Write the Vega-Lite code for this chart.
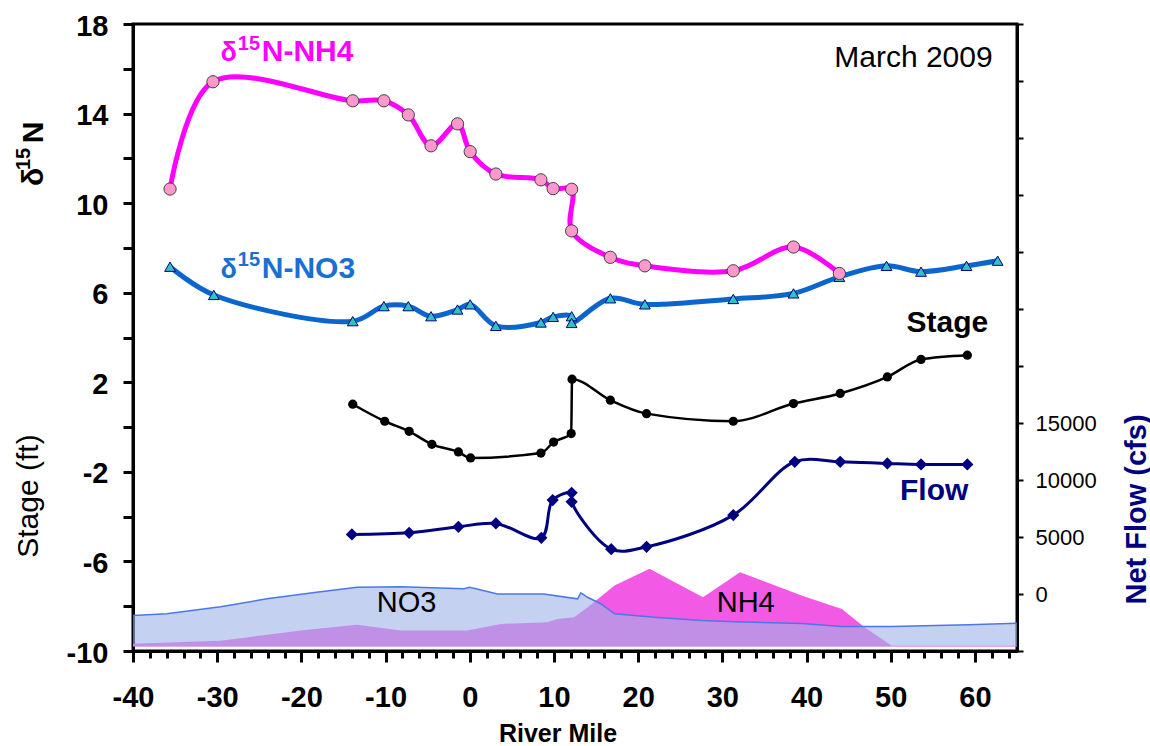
{
  "$schema": "https://vega.github.io/schema/vega-lite/v6.json",
  "width": 884,
  "height": 627,
  "autosize": {"type": "none"},
  "padding": {"left": 133, "top": 24, "right": 133, "bottom": 95},
  "background": "white",
  "config": {
    "font": "Liberation Sans",
    "view": {"stroke": "black", "strokeWidth": 3},
    "axis": {"grid": false, "domainColor": "black", "tickColor": "black", "labelColor": "black", "labelFlush": false, "labelOverlap": false, "labelBound": false}
  },
  "datasets": {
    "nh4": [
      {"rm": -35.6, "v": 10.63}, {"rm": -30.5, "v": 15.42}, {"rm": -13.9, "v": 14.57}, {"rm": -10.2, "v": 14.57},
      {"rm": -7.3, "v": 13.94}, {"rm": -4.6, "v": 12.56}, {"rm": -1.45, "v": 13.54}, {"rm": 0.05, "v": 12.3},
      {"rm": 3.1, "v": 11.3}, {"rm": 8.45, "v": 11.04}, {"rm": 9.9, "v": 10.65}, {"rm": 12.1, "v": 10.62},
      {"rm": 12.1, "v": 8.76}, {"rm": 16.7, "v": 7.58}, {"rm": 20.8, "v": 7.2}, {"rm": 31.3, "v": 6.98},
      {"rm": 38.45, "v": 8.04}, {"rm": 43.9, "v": 6.86}
    ],
    "no3": [
      {"rm": -35.6, "v": 7.16}, {"rm": -30.4, "v": 5.9}, {"rm": -13.9, "v": 4.73}, {"rm": -10.2, "v": 5.4},
      {"rm": -7.3, "v": 5.4}, {"rm": -4.6, "v": 4.95}, {"rm": -1.45, "v": 5.25}, {"rm": 0.05, "v": 5.48},
      {"rm": 3.1, "v": 4.52}, {"rm": 8.45, "v": 4.67}, {"rm": 9.9, "v": 4.92}, {"rm": 12.1, "v": 4.95},
      {"rm": 12.1, "v": 4.65}, {"rm": 16.7, "v": 5.75}, {"rm": 20.8, "v": 5.48}, {"rm": 31.3, "v": 5.72},
      {"rm": 38.45, "v": 5.97}, {"rm": 43.9, "v": 6.71}, {"rm": 49.5, "v": 7.2}, {"rm": 53.6, "v": 6.94},
      {"rm": 59.0, "v": 7.2}, {"rm": 62.7, "v": 7.43}
    ],
    "stage": [
      {"rm": -13.9, "v": 1.02}, {"rm": -10.1, "v": 0.26}, {"rm": -7.2, "v": -0.19}, {"rm": -4.5, "v": -0.77},
      {"rm": -1.35, "v": -1.11}, {"rm": 0.1, "v": -1.38}, {"rm": 8.45, "v": -1.16}, {"rm": 9.96, "v": -0.67},
      {"rm": 12.05, "v": -0.29}, {"rm": 12.15, "v": 2.14}, {"rm": 16.7, "v": 1.2}, {"rm": 21.0, "v": 0.6},
      {"rm": 31.3, "v": 0.26}, {"rm": 38.45, "v": 1.05}, {"rm": 44.0, "v": 1.5}, {"rm": 49.6, "v": 2.24},
      {"rm": 53.6, "v": 3.02}, {"rm": 59.1, "v": 3.21}
    ],
    "flow": [
      {"rm": -14.0, "flow": 5224}, {"rm": -7.2, "flow": 5365}, {"rm": -1.35, "flow": 5892}, {"rm": 3.1, "flow": 6190},
      {"rm": 8.5, "flow": 4926}, {"rm": 9.85, "flow": 8236}, {"rm": 12.1, "flow": 8877}, {"rm": 12.1, "flow": 8087},
      {"rm": 16.8, "flow": 3934}, {"rm": 21.0, "flow": 4136}, {"rm": 31.3, "flow": 6919}, {"rm": 38.6, "flow": 11600},
      {"rm": 44.0, "flow": 11600}, {"rm": 49.6, "flow": 11458}, {"rm": 53.6, "flow": 11370}, {"rm": 59.1, "flow": 11370}
    ],
    "no3area": [
      {"rm": -40, "v": -8.42}, {"rm": -36, "v": -8.34}, {"rm": -29.6, "v": -8.02}, {"rm": -24.1, "v": -7.67},
      {"rm": -18.2, "v": -7.38}, {"rm": -13.4, "v": -7.15}, {"rm": -8.2, "v": -7.13}, {"rm": -0.7, "v": -7.22},
      {"rm": 0, "v": -7.15}, {"rm": 3.3, "v": -7.45}, {"rm": 8.8, "v": -7.45}, {"rm": 12.8, "v": -7.67},
      {"rm": 13.2, "v": -7.4}, {"rm": 14.0, "v": -7.6}, {"rm": 15.6, "v": -7.9}, {"rm": 17.2, "v": -8.34},
      {"rm": 21.9, "v": -8.49}, {"rm": 27.5, "v": -8.64}, {"rm": 31.5, "v": -8.69}, {"rm": 39.4, "v": -8.77},
      {"rm": 44.2, "v": -8.91}, {"rm": 50.1, "v": -8.91}, {"rm": 59.2, "v": -8.83}, {"rm": 65, "v": -8.76}
    ],
    "nh4area": [
      {"rm": -40, "v": -9.68}, {"rm": -29.6, "v": -9.54}, {"rm": -20.1, "v": -9.09}, {"rm": -13.4, "v": -8.83},
      {"rm": -8.2, "v": -9.09}, {"rm": -0.3, "v": -9.09}, {"rm": 3.7, "v": -8.79}, {"rm": 9.25, "v": -8.72},
      {"rm": 10.4, "v": -8.57}, {"rm": 12.4, "v": -8.49}, {"rm": 14.0, "v": -8.05}, {"rm": 17.2, "v": -7.08},
      {"rm": 21.35, "v": -6.33}, {"rm": 27.7, "v": -7.6}, {"rm": 32.1, "v": -6.48}, {"rm": 39.4, "v": -7.52},
      {"rm": 44.2, "v": -8.12}, {"rm": 46.9, "v": -8.94}, {"rm": 50.1, "v": -9.76}, {"rm": 65, "v": -9.76}
    ]
  },
  "layer": [
    {
      "layer": [
        {
          "data": {"name": "nh4area"},
          "mark": {"type": "area", "fill": "#f25ae6", "clip": true},
          "encoding": {
            "x": {"field": "rm", "type": "quantitative", "scale": {"domain": [-40, 65], "nice": false, "zero": false},
              "axis": {"orient": "bottom", "tickCount": 200, "values": [-40, -38, -36, -34, -32, -30, -28, -26, -24, -22, -20, -18, -16, -14, -12, -10, -8, -6, -4, -2, 0, 2, 4, 6, 8, 10, 12, 14, 16, 18, 20, 22, 24, 26, 28, 30, 32, 34, 36, 38, 40, 42, 44, 46, 48, 50, 52, 54, 56, 58, 60, 62, 64],
                "labelExpr": "datum.value % 10 === 0 ? '' + datum.value : ''",
                "tickSize": {"condition": {"test": "datum.value % 10 === 0", "value": 11}, "value": 7},
                "tickWidth": 3, "domainWidth": 3,
                "labelFont": "Liberation Sans", "labelFontSize": 29, "labelFontWeight": "bold", "labelPadding": 21,
                "title": "River Mile", "titleFontSize": 25, "titleFontWeight": "bold", "titleColor": "black",
                "titleX": 424.5, "titleY": 90, "titleAlign": "center", "titleBaseline": "alphabetic"}},
            "y": {"field": "v", "type": "quantitative", "title": null, "scale": {"domain": [-10, 18], "nice": false, "zero": false},
              "axis": {"orient": "left", "title": null, "tickCount": 100, "values": [-10, -8, -6, -4, -2, 0, 2, 4, 6, 8, 10, 12, 14, 16, 18],
                "labelExpr": "abs(datum.value % 4) == 2 ? '' + datum.value : ''", "tickSize": 10, "tickWidth": 3, "domainWidth": 3,
                "labelFontSize": 29, "labelFontWeight": "bold", "labelPadding": 15, "labelOffset": 2}},
            "y2": {"datum": -9.8}
          }
        },
        {
          "data": {"name": "no3area"},
          "mark": {"type": "area", "fill": "#9fb3e6", "fillOpacity": 0.6, "clip": true},
          "encoding": {
            "x": {"field": "rm", "type": "quantitative"},
            "y": {"field": "v", "type": "quantitative", "title": null},
            "y2": {"datum": -9.8}
          }
        },
        {
          "data": {"name": "no3area"},
          "mark": {"type": "line", "color": "#4a78e8", "strokeWidth": 1.5, "clip": true},
          "encoding": {
            "x": {"field": "rm", "type": "quantitative"},
            "y": {"field": "v", "type": "quantitative", "title": null}
          }
        },
        {
          "data": {"name": "no3"},
          "mark": {"type": "line", "color": "#0a66cc", "strokeWidth": 5, "interpolate": "catmull-rom"},
          "encoding": {
            "x": {"field": "rm", "type": "quantitative"},
            "y": {"field": "v", "type": "quantitative", "title": null},
            "order": {"value": null}
          }
        },
        {
          "data": {"name": "nh4"},
          "mark": {"type": "line", "color": "#ff00ff", "strokeWidth": 5, "interpolate": "catmull-rom"},
          "encoding": {
            "x": {"field": "rm", "type": "quantitative"},
            "y": {"field": "v", "type": "quantitative", "title": null},
            "order": {"value": null}
          }
        },
        {
          "data": {"name": "stage"},
          "mark": {"type": "line", "color": "black", "strokeWidth": 2.5, "interpolate": "monotone"},
          "encoding": {
            "x": {"field": "rm", "type": "quantitative"},
            "y": {"field": "v", "type": "quantitative", "title": null},
            "order": {"value": null}
          }
        },
        {
          "data": {"name": "stage"},
          "mark": {"type": "point", "shape": "circle", "filled": true, "color": "black", "size": 85, "opacity": 1},
          "encoding": {
            "x": {"field": "rm", "type": "quantitative"},
            "y": {"field": "v", "type": "quantitative", "title": null}
          }
        },
        {
          "data": {"name": "no3"},
          "mark": {"type": "point", "shape": "triangle-up", "filled": true, "fill": "#2ec4c4", "stroke": "#000080", "strokeWidth": 1, "size": 115, "opacity": 1},
          "encoding": {
            "x": {"field": "rm", "type": "quantitative"},
            "y": {"field": "v", "type": "quantitative", "title": null}
          }
        },
        {
          "data": {"name": "nh4"},
          "mark": {"type": "point", "shape": "circle", "filled": true, "fill": "#ff99cc", "stroke": "#404040", "strokeWidth": 1, "size": 150, "opacity": 1},
          "encoding": {
            "x": {"field": "rm", "type": "quantitative"},
            "y": {"field": "v", "type": "quantitative", "title": null}
          }
        },
        {"data": {"values": [{}]}, "mark": {"type": "text", "text": "δ", "font": "Liberation Sans", "fontSize": 27, "fontWeight": "bold", "color": "#ff00ff", "align": "left", "baseline": "alphabetic"},
         "encoding": {"x": {"datum": -29.6}, "y": {"datum": 16.34}}},
        {"data": {"values": [{}]}, "mark": {"type": "text", "text": "15", "font": "Liberation Sans", "fontSize": 20, "fontWeight": "bold", "color": "#ff00ff", "align": "left", "baseline": "alphabetic"},
         "encoding": {"x": {"datum": -27.55}, "y": {"datum": 16.86}}},
        {"data": {"values": [{}]}, "mark": {"type": "text", "text": "N-NH4", "font": "Liberation Sans", "fontSize": 30, "fontWeight": "bold", "color": "#ff00ff", "align": "left", "baseline": "alphabetic"},
         "encoding": {"x": {"datum": -24.71}, "y": {"datum": 16.34}}},
        {"data": {"values": [{}]}, "mark": {"type": "text", "text": "δ", "font": "Liberation Sans", "fontSize": 27, "fontWeight": "bold", "color": "#1a6fd0", "align": "left", "baseline": "alphabetic"},
         "encoding": {"x": {"datum": -29.6}, "y": {"datum": 6.66}}},
        {"data": {"values": [{}]}, "mark": {"type": "text", "text": "15", "font": "Liberation Sans", "fontSize": 20, "fontWeight": "bold", "color": "#1a6fd0", "align": "left", "baseline": "alphabetic"},
         "encoding": {"x": {"datum": -27.55}, "y": {"datum": 7.18}}},
        {"data": {"values": [{}]}, "mark": {"type": "text", "text": "N-NO3", "font": "Liberation Sans", "fontSize": 30, "fontWeight": "bold", "color": "#1a6fd0", "align": "left", "baseline": "alphabetic"},
         "encoding": {"x": {"datum": -24.71}, "y": {"datum": 6.66}}},
        {"data": {"values": [{}]}, "mark": {"type": "text", "text": "March 2009", "font": "Liberation Sans", "fontSize": 30, "color": "black", "align": "right", "baseline": "alphabetic"},
         "encoding": {"x": {"datum": 62.11}, "y": {"datum": 16.09}}},
        {"data": {"values": [{}]}, "mark": {"type": "text", "text": "Stage", "font": "Liberation Sans", "fontSize": 30, "fontWeight": "bold", "color": "black", "align": "right", "baseline": "alphabetic"},
         "encoding": {"x": {"datum": 61.59}, "y": {"datum": 4.26}}},
        {"data": {"values": [{}]}, "mark": {"type": "text", "text": "Flow", "font": "Liberation Sans", "fontSize": 30, "fontWeight": "bold", "color": "#000080", "align": "right", "baseline": "alphabetic"},
         "encoding": {"x": {"datum": 59.22}, "y": {"datum": -3.26}}},
        {"data": {"values": [{}]}, "mark": {"type": "text", "text": "NO3", "font": "Liberation Sans", "fontSize": 29, "color": "black", "align": "left", "baseline": "alphabetic"},
         "encoding": {"x": {"datum": -11.05}, "y": {"datum": -8.24}}},
        {"data": {"values": [{}]}, "mark": {"type": "text", "text": "NH4", "font": "Liberation Sans", "fontSize": 29, "color": "black", "align": "left", "baseline": "alphabetic"},
         "encoding": {"x": {"datum": 29.33}, "y": {"datum": -8.24}}},
        {"data": {"values": [{}]}, "mark": {"type": "text", "text": "δ", "font": "Liberation Sans", "fontSize": 30, "fontWeight": "bold", "color": "black", "align": "left", "baseline": "alphabetic", "angle": 270},
         "encoding": {"x": {"datum": -50.69}, "y": {"datum": 10.77}}},
        {"data": {"values": [{}]}, "mark": {"type": "text", "text": "15", "font": "Liberation Sans", "fontSize": 20, "fontWeight": "bold", "color": "black", "align": "left", "baseline": "alphabetic", "angle": 270},
         "encoding": {"x": {"datum": -52.23}, "y": {"datum": 11.48}}},
        {"data": {"values": [{}]}, "mark": {"type": "text", "text": "N", "font": "Liberation Sans", "fontSize": 30, "fontWeight": "bold", "color": "black", "align": "left", "baseline": "alphabetic", "angle": 270},
         "encoding": {"x": {"datum": -50.69}, "y": {"datum": 12.67}}},
        {"data": {"values": [{}]}, "mark": {"type": "text", "text": "Stage (ft)", "font": "Liberation Sans", "fontSize": 30, "color": "black", "align": "center", "baseline": "alphabetic", "angle": 270},
         "encoding": {"x": {"datum": -51.25}, "y": {"datum": -3.08}}}
      ]
    },
    {
      "data": {"name": "flow"},
      "encoding": {
        "x": {"field": "rm", "type": "quantitative", "scale": {"domain": [-40, 65], "nice": false, "zero": false}, "axis": null},
        "y": {"field": "flow", "type": "quantitative", "title": null, "scale": {"domain": [-5000, 50000], "nice": false, "zero": false},
          "axis": {"orient": "right", "tickCount": 100, "values": [-5000, 0, 5000, 10000, 15000, 20000, 25000, 30000, 35000, 40000, 45000, 50000],
            "labelExpr": "datum.value >= 0 && datum.value <= 15000 ? '' + datum.value : ''",
            "tickSize": 6, "tickWidth": 2, "domainWidth": 3, "labelFontSize": 22, "labelPadding": 12,
            "title": "Net Flow (cfs)", "titleColor": "#000080", "titleFontSize": 29, "titleFontWeight": "bold",
            "titleAngle": 270, "titleX": 128, "titleY": 485, "titleAlign": "center", "titleBaseline": "alphabetic"}}
      },
      "layer": [
        {"mark": {"type": "line", "color": "#000080", "strokeWidth": 3, "interpolate": "catmull-rom"},
         "encoding": {"order": {"value": null}}},
        {"mark": {"type": "point", "shape": "diamond", "filled": true, "color": "#000080", "size": 150, "opacity": 1}}
      ]
    }
  ],
  "resolve": {"scale": {"y": "independent"}, "axis": {"x": "independent", "y": "independent"}}
}
